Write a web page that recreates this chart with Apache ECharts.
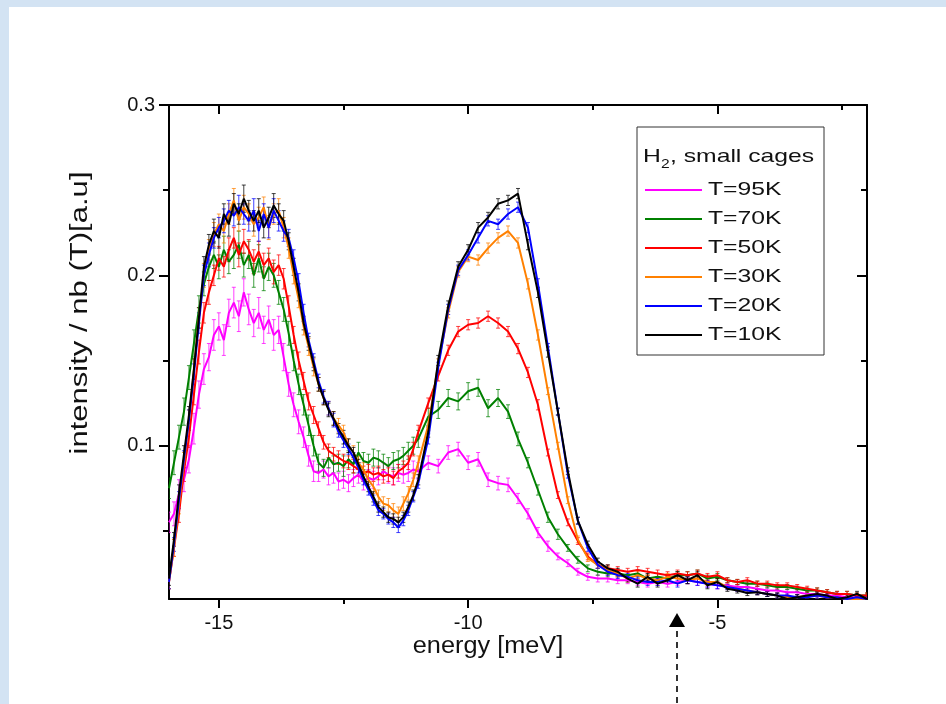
<!DOCTYPE html>
<html>
<head>
<meta charset="utf-8">
<title>H2 small cages</title>
<script src="https://cdn.jsdelivr.net/npm/echarts@6/dist/echarts.min.js"></script>
<style>
    body { margin: 0; background: #d3e3f3; }
    #paper { position: absolute; left: 9px; top: 7px; right: 0; bottom: 0; background: #fff; }
    #main { position: absolute; left: 0; top: 0; width: 946px; height: 704px; }
</style>
</head>
<body>
<div id="paper"></div>
<div id="main"></div>
<script>
// energy axis (meV)
var energy = [
    -16.0, -15.9, -15.8, -15.7, -15.6, -15.5, -15.4, -15.3, -15.2, -15.1, -15.0,
    -14.9, -14.8, -14.7, -14.6, -14.5, -14.4, -14.3, -14.2, -14.1, -14.0,
    -13.9, -13.8, -13.7, -13.6, -13.5, -13.4, -13.3, -13.2, -13.1, -13.0,
    -12.9, -12.8, -12.7, -12.6, -12.5, -12.4, -12.3, -12.2, -12.1, -12.0,
    -11.9, -11.8, -11.7, -11.6, -11.5, -11.4, -11.3, -11.2, -11.1, -11.0,
    -10.8, -10.6, -10.4, -10.2, -10.0, -9.8, -9.6, -9.4, -9.2, -9.0,
    -8.8, -8.6, -8.4, -8.2, -8.0, -7.8, -7.6, -7.4, -7.2, -7.0,
    -6.8, -6.6, -6.4, -6.2, -6.0, -5.8, -5.6, -5.4, -5.2, -5.0,
    -4.8, -4.6, -4.4, -4.2, -4.0, -3.8, -3.6, -3.4, -3.2, -3.0,
    -2.8, -2.6, -2.4, -2.2, -2.0
];

var t95 = [
    0.055, 0.06, 0.072, 0.08, 0.092, 0.11, 0.13, 0.145, 0.152, 0.165, 0.17,
    0.162, 0.178, 0.184, 0.176, 0.19, 0.18, 0.172, 0.178, 0.168, 0.174,
    0.165, 0.168, 0.152, 0.136, 0.124, 0.114, 0.105, 0.094, 0.085, 0.084,
    0.086, 0.082, 0.084, 0.079, 0.08, 0.078, 0.081, 0.083, 0.079, 0.081,
    0.08, 0.082, 0.085, 0.083, 0.082, 0.084, 0.083, 0.084, 0.086, 0.085,
    0.09, 0.088, 0.096, 0.098, 0.09, 0.092, 0.08, 0.078, 0.077, 0.069,
    0.06, 0.049, 0.041, 0.035, 0.031, 0.026, 0.023, 0.022, 0.022, 0.021,
    0.021, 0.02, 0.019, 0.02, 0.019, 0.02, 0.021, 0.02, 0.019, 0.018,
    0.018, 0.017, 0.017, 0.016, 0.015, 0.015, 0.014, 0.014, 0.013, 0.013,
    0.012, 0.012, 0.011, 0.011, 0.011
];
var t70 = [
    0.075, 0.09, 0.105, 0.12, 0.14, 0.16, 0.18, 0.195, 0.205, 0.212, 0.205,
    0.215, 0.208, 0.212, 0.218, 0.206, 0.212, 0.2, 0.21, 0.198, 0.205,
    0.2, 0.19, 0.18, 0.166, 0.15, 0.136, 0.124, 0.112, 0.1, 0.09,
    0.087, 0.093, 0.089, 0.09, 0.088, 0.092, 0.089, 0.096, 0.091, 0.09,
    0.093, 0.092, 0.09, 0.088, 0.091, 0.092, 0.094, 0.097, 0.1, 0.104,
    0.117, 0.121, 0.128, 0.126, 0.132, 0.134, 0.122, 0.128, 0.12, 0.104,
    0.09, 0.074, 0.058, 0.048, 0.04, 0.033, 0.028, 0.026, 0.025, 0.025,
    0.024, 0.025, 0.022, 0.023, 0.022, 0.024, 0.024, 0.025, 0.022, 0.023,
    0.021, 0.02, 0.019, 0.019, 0.018, 0.017, 0.017, 0.016, 0.015, 0.015,
    0.014, 0.013, 0.013, 0.012, 0.012
];
var t50 = [
    0.02, 0.04, 0.06, 0.085, 0.105, 0.13, 0.155, 0.178, 0.19, 0.2, 0.21,
    0.205, 0.215, 0.222, 0.212, 0.22, 0.215, 0.208, 0.214, 0.206, 0.21,
    0.202, 0.206, 0.198, 0.182, 0.165, 0.15, 0.138, 0.126, 0.118, 0.11,
    0.102, 0.097, 0.095, 0.093, 0.091, 0.09, 0.088, 0.086, 0.084, 0.085,
    0.083, 0.084, 0.082, 0.083, 0.081, 0.085, 0.087, 0.09, 0.098, 0.108,
    0.125, 0.141, 0.156, 0.167, 0.171, 0.172, 0.176, 0.172, 0.167, 0.157,
    0.143, 0.124, 0.096, 0.071, 0.055, 0.044, 0.035, 0.03, 0.028, 0.027,
    0.026, 0.027, 0.026, 0.025, 0.024, 0.025, 0.024, 0.025, 0.023, 0.024,
    0.021, 0.02, 0.021, 0.019, 0.019, 0.018, 0.018, 0.017, 0.016, 0.015,
    0.014, 0.013, 0.013, 0.012, 0.012
];
var t30 = [
    0.02, 0.04, 0.065, 0.09, 0.115, 0.145, 0.175, 0.2, 0.215, 0.224, 0.23,
    0.226, 0.236, 0.244, 0.232, 0.24, 0.236, 0.23, 0.234, 0.24, 0.228,
    0.236, 0.238, 0.228, 0.216, 0.2, 0.186, 0.17, 0.158, 0.146, 0.136,
    0.128, 0.122, 0.116, 0.112, 0.108, 0.1, 0.096, 0.09, 0.086, 0.08,
    0.076, 0.07, 0.066, 0.065, 0.062, 0.06, 0.066, 0.072, 0.08, 0.09,
    0.112, 0.148, 0.178, 0.202, 0.211, 0.209, 0.216, 0.222, 0.226, 0.219,
    0.195, 0.165, 0.132, 0.1, 0.068, 0.045, 0.034, 0.03, 0.027, 0.025,
    0.022, 0.024, 0.022, 0.021, 0.023, 0.022, 0.021, 0.022, 0.02, 0.02,
    0.017, 0.016, 0.015, 0.014, 0.013, 0.012, 0.011, 0.011, 0.012, 0.012,
    0.011, 0.011, 0.01, 0.01, 0.01
];
var t20 = [
    0.02, 0.042, 0.068, 0.092, 0.115, 0.142, 0.172, 0.2, 0.212, 0.222, 0.228,
    0.232, 0.238, 0.235, 0.24, 0.236, 0.232, 0.238, 0.226, 0.236, 0.228,
    0.238, 0.232, 0.226, 0.222, 0.21, 0.196, 0.178, 0.162, 0.15, 0.138,
    0.129, 0.122, 0.115, 0.108, 0.103, 0.098, 0.093, 0.087, 0.08, 0.074,
    0.068, 0.062, 0.06, 0.057, 0.055, 0.052, 0.056, 0.062, 0.07, 0.078,
    0.104, 0.146, 0.18, 0.203, 0.212, 0.222, 0.232, 0.23, 0.236, 0.24,
    0.228, 0.195, 0.158, 0.12, 0.083, 0.056, 0.04, 0.03, 0.026, 0.024,
    0.023, 0.021, 0.02, 0.02, 0.021, 0.019, 0.021, 0.02, 0.019, 0.018,
    0.017, 0.016, 0.015, 0.014, 0.013, 0.012, 0.012, 0.011, 0.011, 0.012,
    0.011, 0.011, 0.01, 0.011, 0.01
];
var t10 = [
    0.022, 0.045, 0.072, 0.095, 0.118, 0.145, 0.175, 0.205, 0.218, 0.226, 0.222,
    0.236, 0.23, 0.242, 0.236, 0.245, 0.238, 0.232, 0.238, 0.228, 0.234,
    0.241, 0.236, 0.232, 0.22, 0.205, 0.19, 0.172, 0.16, 0.148, 0.136,
    0.128, 0.121, 0.116, 0.11, 0.105, 0.1, 0.096, 0.089, 0.082, 0.076,
    0.07, 0.064, 0.061, 0.058, 0.057, 0.055, 0.058, 0.064, 0.071, 0.08,
    0.108, 0.15, 0.182, 0.205, 0.215, 0.228, 0.234, 0.242, 0.244, 0.248,
    0.218, 0.19, 0.155, 0.12, 0.085, 0.056, 0.042, 0.032, 0.028, 0.026,
    0.022, 0.019, 0.023, 0.019, 0.021, 0.024, 0.021, 0.024, 0.018, 0.02,
    0.016, 0.015, 0.0135, 0.014, 0.013, 0.012, 0.01, 0.011, 0.012, 0.013,
    0.012, 0.01, 0.011, 0.013, 0.01
];

// error bar half-lengths
var e95 = [
    0.006, 0.007, 0.008, 0.007, 0.008, 0.009, 0.008, 0.009, 0.008, 0.009, 0.008,
    0.009, 0.008, 0.009, 0.009, 0.008, 0.009, 0.008, 0.009, 0.008, 0.008,
    0.009, 0.008, 0.008, 0.007, 0.007, 0.007, 0.006, 0.006, 0.006, 0.005,
    0.005, 0.005, 0.006, 0.005, 0.005, 0.005, 0.005, 0.005, 0.005, 0.005,
    0.005, 0.005, 0.005, 0.005, 0.005, 0.005, 0.005, 0.005, 0.005, 0.005,
    0.004, 0.004, 0.004, 0.004, 0.004, 0.004, 0.004, 0.004, 0.004, 0.003,
    0.003, 0.003, 0.003, 0.002, 0.002, 0.002, 0.002, 0.002, 0.002, 0.002,
    0.002, 0.002, 0.002, 0.002, 0.002, 0.002, 0.002, 0.002, 0.002, 0.002,
    0.0015, 0.0015, 0.0015, 0.0015, 0.0015, 0.0015, 0.0015, 0.0015, 0.0015, 0.0015,
    0.0015, 0.0015, 0.0015, 0.0015, 0.0015
];
var e70 = [
    0.006, 0.007, 0.007, 0.008, 0.007, 0.008, 0.008, 0.007, 0.008, 0.008, 0.007,
    0.008, 0.007, 0.008, 0.008, 0.007, 0.008, 0.007, 0.008, 0.007, 0.008,
    0.007, 0.007, 0.007, 0.007, 0.006, 0.006, 0.006, 0.006, 0.006, 0.005,
    0.005, 0.006, 0.005, 0.005, 0.006, 0.005, 0.005, 0.006, 0.005, 0.005,
    0.005, 0.005, 0.005, 0.005, 0.005, 0.005, 0.005, 0.005, 0.005, 0.005,
    0.005, 0.005, 0.005, 0.005, 0.005, 0.005, 0.005, 0.005, 0.004, 0.004,
    0.003, 0.003, 0.003, 0.003, 0.002, 0.002, 0.002, 0.002, 0.002, 0.002,
    0.002, 0.002, 0.002, 0.002, 0.002, 0.002, 0.002, 0.002, 0.002, 0.002,
    0.0015, 0.0015, 0.0015, 0.0015, 0.0015, 0.0015, 0.0015, 0.0015, 0.0015, 0.0015,
    0.0015, 0.0015, 0.0015, 0.0015, 0.0015
];
var e50 = [
    0.004, 0.005, 0.005, 0.006, 0.006, 0.006, 0.007, 0.006, 0.007, 0.006, 0.007,
    0.006, 0.007, 0.006, 0.007, 0.007, 0.006, 0.007, 0.006, 0.007, 0.006,
    0.007, 0.006, 0.006, 0.006, 0.005, 0.005, 0.005, 0.005, 0.005, 0.004,
    0.004, 0.004, 0.004, 0.004, 0.004, 0.004, 0.004, 0.004, 0.004, 0.004,
    0.004, 0.004, 0.004, 0.004, 0.004, 0.004, 0.004, 0.004, 0.004, 0.004,
    0.003, 0.003, 0.003, 0.003, 0.003, 0.003, 0.003, 0.003, 0.003, 0.003,
    0.003, 0.003, 0.002, 0.002, 0.002, 0.002, 0.002, 0.002, 0.002, 0.002,
    0.002, 0.002, 0.002, 0.002, 0.002, 0.002, 0.002, 0.002, 0.002, 0.002,
    0.0015, 0.0015, 0.0015, 0.0015, 0.0015, 0.0015, 0.0015, 0.0015, 0.0015, 0.0015,
    0.0015, 0.0015, 0.0015, 0.0015, 0.0015
];
var e30 = [
    0.004, 0.005, 0.005, 0.006, 0.006, 0.006, 0.006, 0.007, 0.006, 0.007, 0.006,
    0.007, 0.006, 0.007, 0.006, 0.007, 0.006, 0.007, 0.006, 0.006, 0.007,
    0.006, 0.007, 0.006, 0.006, 0.005, 0.005, 0.005, 0.005, 0.005, 0.004,
    0.004, 0.004, 0.004, 0.004, 0.004, 0.004, 0.004, 0.004, 0.004, 0.004,
    0.004, 0.004, 0.004, 0.004, 0.004, 0.004, 0.004, 0.004, 0.004, 0.004,
    0.003, 0.003, 0.003, 0.003, 0.003, 0.003, 0.003, 0.003, 0.003, 0.003,
    0.003, 0.003, 0.002, 0.002, 0.002, 0.002, 0.002, 0.002, 0.002, 0.002,
    0.002, 0.002, 0.002, 0.002, 0.002, 0.002, 0.002, 0.002, 0.002, 0.002,
    0.0015, 0.0015, 0.0015, 0.0015, 0.0015, 0.0015, 0.0015, 0.0015, 0.0015, 0.0015,
    0.0015, 0.0015, 0.0015, 0.0015, 0.0015
];
var e20 = [
    0.004, 0.004, 0.005, 0.005, 0.006, 0.006, 0.006, 0.006, 0.007, 0.006, 0.006,
    0.007, 0.006, 0.006, 0.007, 0.006, 0.006, 0.007, 0.006, 0.006, 0.006,
    0.007, 0.006, 0.006, 0.005, 0.005, 0.005, 0.005, 0.004, 0.004, 0.004,
    0.004, 0.004, 0.004, 0.003, 0.004, 0.003, 0.003, 0.003, 0.003, 0.003,
    0.003, 0.003, 0.003, 0.003, 0.003, 0.003, 0.003, 0.003, 0.003, 0.003,
    0.003, 0.003, 0.003, 0.003, 0.003, 0.003, 0.003, 0.003, 0.003, 0.003,
    0.003, 0.003, 0.002, 0.002, 0.002, 0.002, 0.002, 0.002, 0.002, 0.002,
    0.002, 0.002, 0.002, 0.002, 0.002, 0.002, 0.002, 0.002, 0.002, 0.002,
    0.0015, 0.0015, 0.0015, 0.0015, 0.0015, 0.0015, 0.0015, 0.0015, 0.0015, 0.0015,
    0.0015, 0.0015, 0.0015, 0.0015, 0.0015
];
var e10 = [
    0.004, 0.004, 0.005, 0.005, 0.005, 0.006, 0.006, 0.006, 0.006, 0.007, 0.006,
    0.006, 0.007, 0.006, 0.006, 0.008, 0.006, 0.006, 0.007, 0.006, 0.006,
    0.007, 0.006, 0.006, 0.005, 0.005, 0.005, 0.004, 0.004, 0.004, 0.004,
    0.004, 0.004, 0.004, 0.003, 0.004, 0.004, 0.003, 0.003, 0.003, 0.003,
    0.003, 0.003, 0.003, 0.003, 0.003, 0.003, 0.003, 0.003, 0.003, 0.003,
    0.003, 0.003, 0.003, 0.003, 0.003, 0.003, 0.003, 0.003, 0.003, 0.003,
    0.003, 0.003, 0.003, 0.002, 0.002, 0.002, 0.002, 0.002, 0.002, 0.002,
    0.002, 0.002, 0.002, 0.002, 0.002, 0.002, 0.002, 0.002, 0.002, 0.002,
    0.0015, 0.0015, 0.0015, 0.0015, 0.0015, 0.0015, 0.0015, 0.0015, 0.0015, 0.0015,
    0.0015, 0.0015, 0.0015, 0.0015, 0.0015
];

var names = ['T=95K', 'T=70K', 'T=50K', 'T=30K', 'T=20K', 'T=10K'];
var values = [t95, t70, t50, t30, t20, t10];
var errors = [e95, e70, e50, e30, e20, e10];
var colors = ['#ff00ff', '#008000', '#ff0000', '#ff8000', '#0000ff', '#000000'];

var xMajor = [-15, -10, -5];
var xMinor = [-12.5, -7.5, -2.5];
var yMajor = [0.1, 0.2, 0.3];
var yMinor = [0.05, 0.15, 0.25];

var FONT = "'Liberation Sans', Arial, sans-serif";
// the original figure is stretched sideways, so its text is too
var STRETCH = 1.3;

var SpectrumChart = {
    init: function () {
        var chart = echarts.init(document.getElementById('main'), null, { renderer: 'canvas' });
        chart.setOption(SpectrumChart.buildOption());
    },
    // error bar: vertical line plus small caps
    renderErrorBar: function (params, api) {
        var x = api.value(0);
        var y = api.value(1);
        var e = api.value(2);
        var hi = api.coord([x, y + e]);
        var lo = api.coord([x, y - e]);
        var cap = 2;
        var style = { stroke: api.visual('color'), lineWidth: 1, opacity: 0.75 };
        return {
            type: 'group',
            children: [
                { type: 'line', shape: { x1: hi[0], y1: hi[1], x2: lo[0], y2: lo[1] }, style: style },
                { type: 'line', shape: { x1: hi[0] - cap, y1: hi[1], x2: hi[0] + cap, y2: hi[1] }, style: style },
                { type: 'line', shape: { x1: lo[0] - cap, y1: lo[1], x2: lo[0] + cap, y2: lo[1] }, style: style }
            ]
        };
    },
    buildSeries: function () {
        var series = [];
        for (var i = 0; i < names.length; i++) {
            var pts = [];
            var bars = [];
            for (var j = 0; j < energy.length; j++) {
                pts.push([energy[j], values[i][j]]);
                bars.push([energy[j], values[i][j], errors[i][j]]);
            }
            series.push({
                name: names[i] + ' err',
                type: 'custom',
                renderItem: SpectrumChart.renderErrorBar,
                itemStyle: { color: colors[i] },
                encode: { x: 0, y: 1 },
                data: bars,
                clip: true,
                silent: true,
                z: 2
            });
            series.push({
                name: names[i],
                type: 'line',
                data: pts,
                showSymbol: false,
                lineStyle: { color: colors[i], width: 2 },
                itemStyle: { color: colors[i] },
                clip: true,
                silent: true,
                z: 2
            });
        }
        return series;
    },
    // legend box drawn by hand so the wide lettering can be matched
    buildLegend: function () {
        var items = [
            { type: 'rect', shape: { x: 637, y: 127, width: 187, height: 228 }, style: { fill: '#fff', stroke: '#333', lineWidth: 1 }, z: 50 },
            { type: 'text', x: 643, y: 157, scaleX: STRETCH, z: 51, style: { text: 'H', fill: '#111', font: '19px ' + FONT, verticalAlign: 'middle' } },
            { type: 'text', x: 661, y: 165, scaleX: STRETCH, z: 51, style: { text: '2', fill: '#111', font: '12px ' + FONT, verticalAlign: 'middle' } },
            { type: 'text', x: 670, y: 157, scaleX: STRETCH, z: 51, style: { text: ', small cages', fill: '#111', font: '19px ' + FONT, verticalAlign: 'middle' } }
        ];
        for (var i = 0; i < names.length; i++) {
            var rowY = 190 + i * 29;
            items.push({ type: 'line', z: 51, shape: { x1: 645, y1: rowY, x2: 702, y2: rowY }, style: { stroke: colors[i], lineWidth: 2 } });
            items.push({ type: 'text', x: 708, y: rowY, scaleX: STRETCH, z: 51, style: { text: names[i], fill: '#111', font: '19px ' + FONT, verticalAlign: 'middle' } });
        }
        return items;
    },
    xAxisSide: function (pos, ticks, len, inside, showLine, showLabel) {
        return {
            type: 'value', min: -16, max: -2, position: pos,
            axisLine: { show: showLine, onZero: false, lineStyle: { color: '#000', width: 2 } },
            axisTick: { inside: inside, length: len, customValues: ticks, lineStyle: { color: '#000', width: 2 } },
            axisLabel: showLabel ? { customValues: ticks, fontSize: 20, color: '#111', margin: 14, fontFamily: FONT } : { show: false },
            splitLine: { show: false }
        };
    },
    yAxisSide: function (pos, ticks, len, inside, showLine, showLabel) {
        return {
            type: 'value', min: 0.01, max: 0.3, position: pos,
            axisLine: { show: showLine, onZero: false, lineStyle: { color: '#000', width: 2 } },
            axisTick: { inside: inside, length: len, customValues: ticks, lineStyle: { color: '#000', width: 2 } },
            axisLabel: showLabel ? {
                customValues: ticks, fontSize: 20, color: '#111', margin: 14, fontFamily: FONT,
                formatter: function (v) { return v.toFixed(1); }
            } : { show: false },
            splitLine: { show: false }
        };
    },
    buildOption: function () {
        var graphic = SpectrumChart.buildLegend();
        graphic.push(
            { type: 'text', x: 488, y: 647, scaleX: 1.1, style: { text: 'energy [meV]', fill: '#111', font: '23px ' + FONT, align: 'center', verticalAlign: 'middle' } },
            { type: 'text', x: 81, y: 313, rotation: Math.PI / 2, scaleX: 1.35, style: { text: 'intensity / nb (T)[a.u]', fill: '#111', font: '23px ' + FONT, align: 'center', verticalAlign: 'middle' } },
            { type: 'polygon', shape: { points: [[669, 627], [685, 627], [677, 613]] }, style: { fill: '#000' } },
            { type: 'line', shape: { x1: 677, y1: 631, x2: 677, y2: 704 }, style: { stroke: '#000', lineWidth: 1.6, lineDash: [6, 5] } }
        );
        return {
            animation: false,
            grid: { left: 169, top: 105, right: 79, bottom: 105 },
            xAxis: [
                SpectrumChart.xAxisSide('bottom', xMajor, 9, false, true, true),
                SpectrumChart.xAxisSide('bottom', xMinor, 5, false, false, false),
                SpectrumChart.xAxisSide('top', xMajor, 9, true, true, false),
                SpectrumChart.xAxisSide('top', xMinor, 5, true, false, false)
            ],
            yAxis: [
                SpectrumChart.yAxisSide('left', yMajor, 10, false, true, true),
                SpectrumChart.yAxisSide('left', yMinor, 6, false, false, false),
                SpectrumChart.yAxisSide('right', yMajor, 10, true, true, false),
                SpectrumChart.yAxisSide('right', yMinor, 6, true, false, false)
            ],
            graphic: graphic,
            series: SpectrumChart.buildSeries()
        };
    }
};

SpectrumChart.init();
</script>
</body>
</html>
